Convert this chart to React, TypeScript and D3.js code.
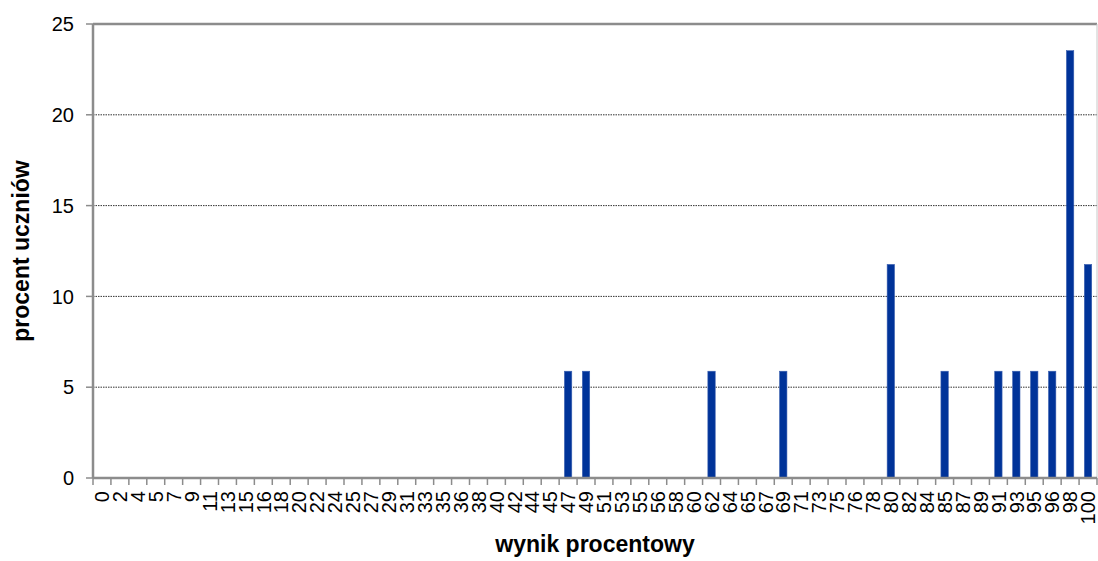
import { useEffect } from "react";
import * as d3 from "d3";

// wynik procentowy (kategorie osi X)
const categories = [
  "0", "2", "4", "5", "7", "9", "11", "13", "15", "16", "18", "20", "22", "24",
  "25", "27", "29", "31", "33", "35", "36", "38", "40", "42", "44", "45", "47",
  "49", "51", "53", "55", "56", "58", "60", "62", "64", "65", "67", "69", "71",
  "73", "75", "76", "78", "80", "82", "84", "85", "87", "89", "91", "93", "95",
  "96", "98", "100",
];

// procent uczniów
const values = [
  0, 0, 0, 0, 0, 0, 0, 0, 0, 0, 0, 0, 0, 0,
  0, 0, 0, 0, 0, 0, 0, 0, 0, 0, 0, 0, 5.88,
  5.88, 0, 0, 0, 0, 0, 0, 5.88, 0, 0, 0, 5.88, 0,
  0, 0, 0, 0, 11.76, 0, 0, 5.88, 0, 0, 5.88, 5.88, 5.88,
  5.88, 23.53, 11.76,
];

const yTicks = [0, 5, 10, 15, 20, 25];

const width = 1098;
const height = 561;
const margin = { top: 24, right: 1, bottom: 83, left: 93 };
const font = "'Liberation Sans', Arial, sans-serif";
const axisColor = "#8c8c8c";

export default function App() {
  useEffect(() => {
    document.body.style.margin = "0";
  }, []);

  const innerWidth = width - margin.left - margin.right;
  const innerHeight = height - margin.top - margin.bottom;

  const xScale = d3
    .scaleBand<string>()
    .domain(categories)
    .range([0, innerWidth])
    .paddingInner(0.59)
    .paddingOuter(0.295);

  const yScale = d3.scaleLinear().domain([0, 25]).range([innerHeight, 0]);

  const step = xScale.step();
  const data = categories.map((c, i) => ({ label: c, value: values[i] }));

  return (
    <svg
      width={width}
      height={height}
      style={{ position: "absolute", left: 0, top: 0, background: "#fff" }}
    >
      <g transform={`translate(${margin.left},${margin.top})`}>
        {/* siatka */}
        {yTicks
          .filter((t) => t > 0 && t < 25)
          .map((t) => (
            <line
              key={`g${t}`}
              x1={0}
              x2={innerWidth}
              y1={yScale(t)}
              y2={yScale(t)}
              stroke="#333"
              strokeWidth={1}
              strokeDasharray="1.5 1"
            />
          ))}

        {/* ramka: góra i prawa */}
        <line x1={0} x2={innerWidth} y1={0} y2={0} stroke={axisColor} strokeWidth={2.5} />
        <line
          x1={innerWidth}
          x2={innerWidth}
          y1={0}
          y2={innerHeight}
          stroke="#c8c8c8"
          strokeWidth={1}
        />

        {/* słupki */}
        {data
          .filter((d) => d.value > 0)
          .map((d) => (
            <rect
              key={d.label}
              x={xScale(d.label)!}
              y={yScale(d.value)}
              width={xScale.bandwidth()}
              height={innerHeight - yScale(d.value)}
              fill="#003399"
              stroke="#3a5fb0"
              strokeWidth={0.6}
            />
          ))}

        {/* oś Y */}
        <line x1={0} x2={0} y1={0} y2={innerHeight} stroke={axisColor} strokeWidth={2.5} />
        {yTicks.map((t) => (
          <g key={`y${t}`} transform={`translate(0,${yScale(t)})`}>
            <line x1={-7} x2={0} stroke={axisColor} strokeWidth={1.5} />
            <text
              x={-19}
              dy="0.36em"
              textAnchor="end"
              fontFamily={font}
              fontSize={20}
              fill="#000"
            >
              {t}
            </text>
          </g>
        ))}

        {/* oś X */}
        <line
          x1={0}
          x2={innerWidth}
          y1={innerHeight}
          y2={innerHeight}
          stroke={axisColor}
          strokeWidth={2.5}
        />
        {d3.range(categories.length + 1).map((i) => (
          <line
            key={`t${i}`}
            x1={i * step}
            x2={i * step}
            y1={innerHeight}
            y2={innerHeight + 7}
            stroke={axisColor}
            strokeWidth={1.5}
          />
        ))}
        {categories.map((c) => {
          const cx = xScale(c)! + xScale.bandwidth() / 2;
          return (
            <text
              key={`l${c}`}
              transform={`translate(${cx},${innerHeight + 13}) rotate(-90)`}
              dy="0.36em"
              textAnchor="end"
              fontFamily={font}
              fontSize={20}
              fill="#000"
            >
              {c}
            </text>
          );
        })}
      </g>

      {/* tytuły osi */}
      <text
        transform={`translate(29,${margin.top + innerHeight / 2}) rotate(-90)`}
        textAnchor="middle"
        fontFamily={font}
        fontSize={23}
        fontWeight="bold"
        fill="#000"
      >
        procent uczniów
      </text>
      <text
        x={margin.left + innerWidth / 2}
        y={552}
        textAnchor="middle"
        fontFamily={font}
        fontSize={23}
        fontWeight="bold"
        fill="#000"
      >
        wynik procentowy
      </text>
    </svg>
  );
}
